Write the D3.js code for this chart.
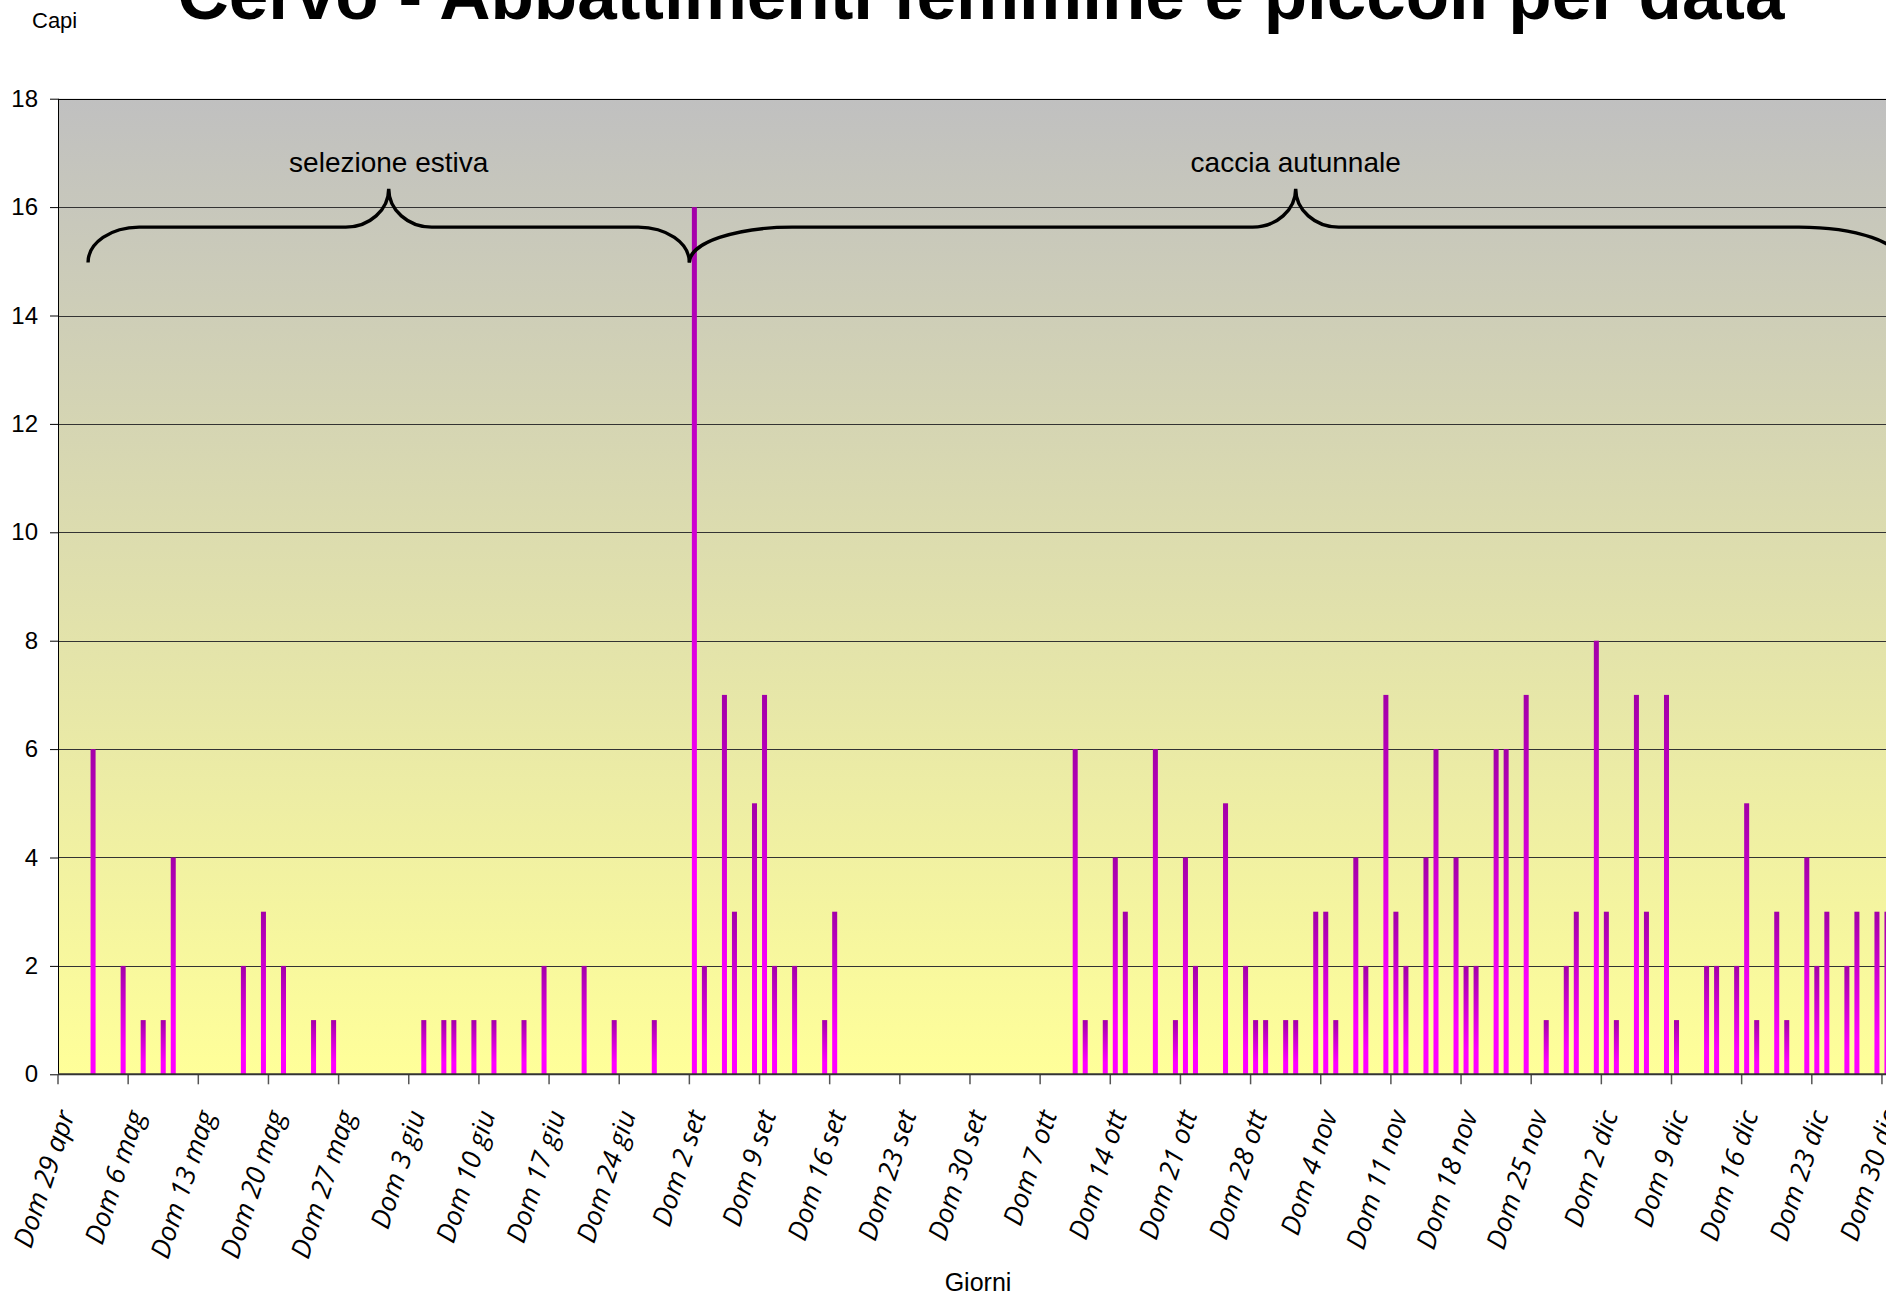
<!DOCTYPE html>
<html>
<head>
<meta charset="utf-8">
<script src="https://cdn.jsdelivr.net/npm/d3@7"></script>
<style>
    html, body { margin: 0; padding: 0; background: #fff; overflow: hidden; }
    text { font-family: 'Liberation Sans', Arial, sans-serif; fill: #000; }
</style>
</head>
<body>
<div id="chart"></div>
<script>
// periodi di caccia mostrati sull'asse (giorni consecutivi)
const periods = [
    [ '2007-04-29', '2007-06-30' ],
    [ '2007-09-02', '2007-12-31' ]
];

// capi abbattuti per giorno, 29 apr - 30 giu (una riga = una settimana da domenica)
const summerValues = [
    0, 0, 0, 6, 0, 0, 2,
    0, 1, 0, 1, 4, 0, 0,
    0, 0, 0, 0, 2, 0, 3,
    0, 2, 0, 0, 1, 0, 1,
    0, 0, 0, 0, 0, 0, 0,
    0, 1, 0, 1, 1, 0, 1,
    0, 1, 0, 0, 1, 0, 2,
    0, 0, 0, 2, 0, 0, 1,
    0, 0, 0, 1, 0, 0, 0
];

// capi abbattuti per giorno, 2 set - 31 dic
const autumnValues = [
    16, 2, 0, 7, 3, 0, 5,
    7, 2, 0, 2, 0, 0, 1,
    3, 0, 0, 0, 0, 0, 0,
    0, 0, 0, 0, 0, 0, 0,
    0, 0, 0, 0, 0, 0, 0,
    0, 0, 0, 6, 1, 0, 1,
    4, 3, 0, 0, 6, 0, 1,
    4, 2, 0, 0, 5, 0, 2,
    1, 1, 0, 1, 1, 0, 3,
    3, 1, 0, 4, 2, 0, 7,
    3, 2, 0, 4, 6, 0, 4,
    2, 2, 0, 6, 6, 0, 7,
    0, 1, 0, 2, 3, 0, 8,
    3, 1, 0, 7, 3, 0, 7,
    1, 0, 0, 2, 2, 0, 2,
    5, 1, 0, 3, 1, 0, 4,
    2, 3, 0, 2, 3, 0, 3,
    3, 0
];

const tickLabels = [
    'Dom 29 apr', 'Dom 6 mag', 'Dom 13 mag', 'Dom 20 mag', 'Dom 27 mag',
    'Dom 3 giu', 'Dom 10 giu', 'Dom 17 giu', 'Dom 24 giu',
    'Dom 2 set', 'Dom 9 set', 'Dom 16 set', 'Dom 23 set', 'Dom 30 set',
    'Dom 7 ott', 'Dom 14 ott', 'Dom 21 ott', 'Dom 28 ott',
    'Dom 4 nov', 'Dom 11 nov', 'Dom 18 nov', 'Dom 25 nov',
    'Dom 2 dic', 'Dom 9 dic', 'Dom 16 dic', 'Dom 23 dic', 'Dom 30 dic'
];

const yTicks = [ 0, 2, 4, 6, 8, 10, 12, 14, 16, 18 ];

const seasons = [
    { name: 'selezione estiva', from: '2007-05-02', to: '2007-09-02' },
    { name: 'caccia autunnale', from: '2007-09-02', to: null }
];

const title = 'Cervo - Abbattimenti femmine e piccoli per data';

const dimensions = { width: 1886,
    height: 1296,
    plotLeft: 58,
    plotRight: 1902,
    plotTop: 98.7,
    plotBottom: 1074.3 };

const parse = d3.timeParse('%Y-%m-%d');
const key = d3.timeFormat('%Y-%m-%d');

const days = periods.flatMap(p => d3.timeDay.range(parse(p[0]), d3.timeDay.offset(parse(p[1]), 1)));
const values = summerValues.concat(autumnValues);
const data = days.map((d, i) => ({ date: key(d), day: d.getDay(), value: values[i] || 0 }));
const sundays = data.filter(d => d.day === 0).map(d => d.date);

const x = d3.scaleBand()
    .domain(data.map(d => d.date))
    .range([ dimensions.plotLeft, dimensions.plotRight ])
    .paddingInner(0.5)
    .paddingOuter(0.25);

const y = d3.scaleLinear()
    .domain([ 0, 18 ])
    .range([ dimensions.plotBottom, dimensions.plotTop ]);

// bordo sinistro della categoria
const edge = k => x(k) + x.bandwidth() / 2 - x.step() / 2;

const svg = d3.select('#chart')
    .append('svg')
    .attr('width', dimensions.width)
    .attr('height', dimensions.height);

const defs = svg.append('defs');

const bg = defs.append('linearGradient')
    .attr('id', 'bg')
    .attr('x1', 0).attr('y1', 0).attr('x2', 0).attr('y2', 1);
bg.append('stop').attr('offset', 0).attr('stop-color', '#c0c0c0');
bg.append('stop').attr('offset', 1).attr('stop-color', '#ffff99');

const barFill = defs.append('linearGradient')
    .attr('id', 'barFill')
    .attr('x1', 0).attr('y1', 0).attr('x2', 0).attr('y2', 1);
barFill.append('stop').attr('offset', 0).attr('stop-color', '#a300a8');
barFill.append('stop').attr('offset', 0.78).attr('stop-color', '#ff00ff');
barFill.append('stop').attr('offset', 1).attr('stop-color', '#ff00ff');

svg.append('rect')
    .attr('x', dimensions.plotLeft)
    .attr('y', dimensions.plotTop)
    .attr('width', dimensions.plotRight - dimensions.plotLeft)
    .attr('height', dimensions.plotBottom - dimensions.plotTop)
    .attr('fill', 'url(#bg)');

// griglia
svg.append('g')
    .selectAll('line')
    .data(yTicks.filter(t => t > 0))
    .enter()
    .append('line')
    .attr('x1', dimensions.plotLeft)
    .attr('x2', dimensions.plotRight)
    .attr('y1', d => Math.round(y(d)) + 0.5)
    .attr('y2', d => Math.round(y(d)) + 0.5)
    .attr('stroke', d => d === 18 ? '#000' : '#333')
    .attr('stroke-width', 1);

// barre
svg.append('g')
    .selectAll('rect')
    .data(data.filter(d => d.value > 0))
    .enter()
    .append('rect')
    .attr('x', d => x(d.date))
    .attr('width', x.bandwidth())
    .attr('y', d => y(d.value))
    .attr('height', d => y(0) - y(d.value))
    .attr('fill', 'url(#barFill)');

// asse y
const yAxis = d3.axisLeft(y)
    .tickValues(yTicks)
    .tickSize(8)
    .tickPadding(12);

svg.append('g')
    .attr('transform', `translate(${dimensions.plotLeft}, 0)`)
    .call(yAxis)
    .call(g => g.select('.domain').remove())
    .call(g => g.selectAll('line').attr('stroke', '#000'))
    .call(g => g.selectAll('text')
        .style('font-family', "'Liberation Sans', Arial, sans-serif")
        .style('font-size', '24px')
        .attr('fill', '#000'));

svg.append('line')
    .attr('x1', dimensions.plotLeft + 0.5)
    .attr('x2', dimensions.plotLeft + 0.5)
    .attr('y1', dimensions.plotTop)
    .attr('y2', dimensions.plotBottom)
    .attr('stroke', '#000');

// asse x
const labelOf = new Map(sundays.map((s, i) => [ s, tickLabels[i] ]));

const xAxis = d3.axisBottom(x)
    .tickValues(sundays)
    .tickSize(10)
    .tickFormat(d => labelOf.get(d));

svg.append('g')
    .attr('transform', `translate(${-x.step() / 2}, ${dimensions.plotBottom})`)
    .call(xAxis)
    .call(g => g.select('.domain').remove())
    .call(g => g.selectAll('line').attr('stroke', '#555').attr('stroke-width', 1.5))
    .call(g => g.selectAll('text')
        .style('font-family', "'Open Sans', sans-serif")
        .style('font-style', 'italic')
        .style('font-size', '27px')
        .attr('fill', '#000')
        .attr('x', 0)
        .attr('y', 0)
        .attr('dy', '0')
        .style('text-anchor', 'end')
        .attr('transform', 'translate(17, 40) rotate(-72)'));

svg.append('line')
    .attr('x1', dimensions.plotLeft)
    .attr('x2', dimensions.plotRight)
    .attr('y1', dimensions.plotBottom)
    .attr('y2', dimensions.plotBottom)
    .attr('stroke', '#333')
    .attr('stroke-width', 2);

// parentesi graffe dei periodi
const yEnd = y(14.98);
const yBar = y(15.63);
const yTip = y(16.34);
const tip = 43;

const brace = (a, b) => {
    const m = (a + b) / 2;
    const c = (b - a) * 0.085;
    const ry1 = yEnd - yBar;
    const ry2 = yBar - yTip;

    return `M${a},${yEnd} A${c},${ry1} 0 0 1 ${a + c},${yBar}`
        + ` L${m - tip},${yBar} A${tip},${ry2} 0 0 0 ${m},${yTip}`
        + ` A${tip},${ry2} 0 0 0 ${m + tip},${yBar}`
        + ` L${b - c},${yBar} A${c},${ry1} 0 0 1 ${b},${yEnd}`;
};

const seasonG = svg.append('g');

seasons.forEach(s => {
    const a = edge(s.from);
    const b = s.to ? edge(s.to) : dimensions.plotRight;

    seasonG.append('path')
        .attr('d', brace(a, b))
        .attr('fill', 'none')
        .attr('stroke', '#000')
        .attr('stroke-width', 3.4);

    seasonG.append('text')
        .attr('x', (a + b) / 2)
        .attr('y', 172)
        .attr('text-anchor', 'middle')
        .style('font-size', '28px')
        .text(s.name);
});

// titoli
svg.append('text')
    .attr('x', 981)
    .attr('y', 19)
    .attr('text-anchor', 'middle')
    .style('font-size', '71px')
    .style('font-weight', 'bold')
    .text(title);

svg.append('text')
    .attr('x', 32)
    .attr('y', 28)
    .style('font-size', '22px')
    .text('Capi');

svg.append('text')
    .attr('x', 978)
    .attr('y', 1291)
    .attr('text-anchor', 'middle')
    .style('font-size', '25px')
    .text('Giorni');
</script>
</body>
</html>
